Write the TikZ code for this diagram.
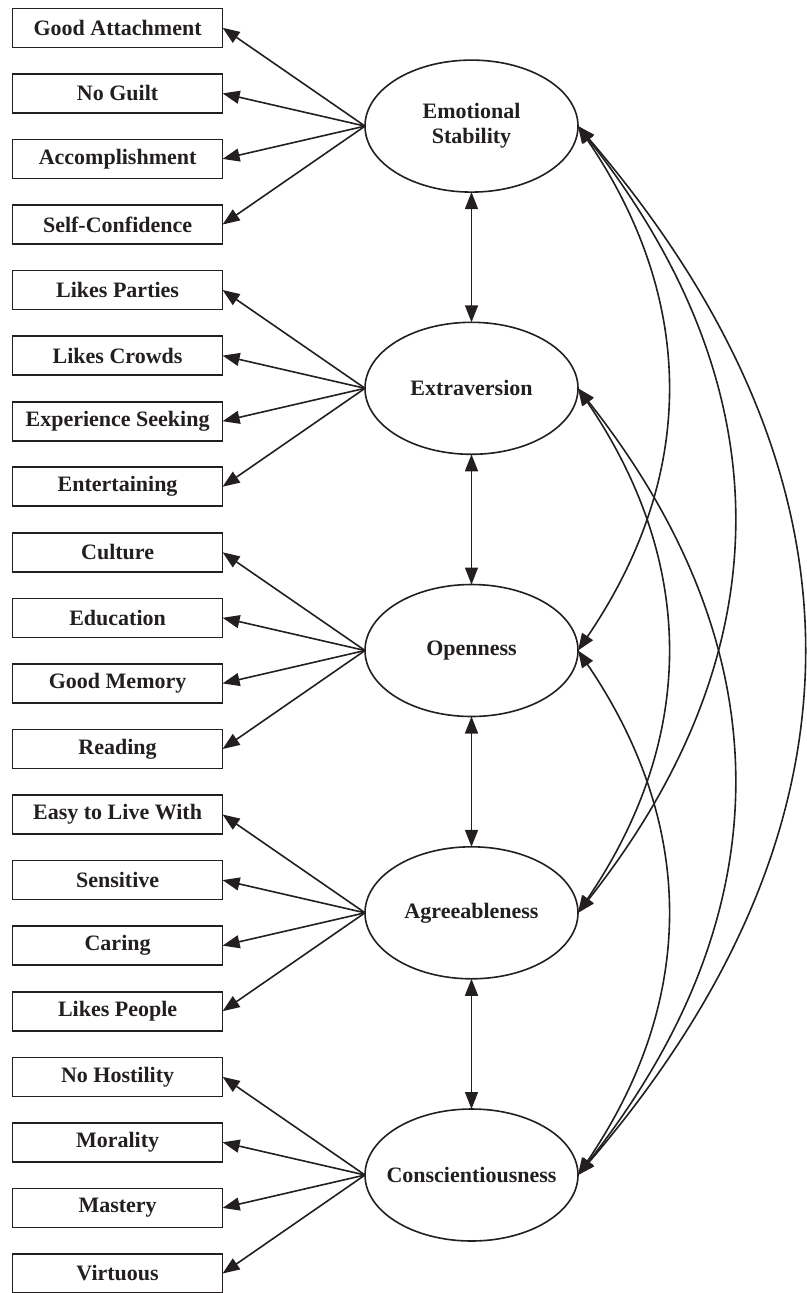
\documentclass[tikz,border=0pt]{standalone}
\usepackage{fontspec}
\setmainfont{Liberation Serif}
\usetikzlibrary{arrows.meta,shapes.geometric}
\definecolor{ink}{RGB}{35,31,32}
\begin{document}
\begin{tikzpicture}[x=1pt,y=-1pt,
  every node/.style={font=\fontsize{22}{25.5}\selectfont\bfseries, text=ink},
  ind/.style={draw=ink, line width=1.6pt, minimum width=210pt, minimum height=39pt, inner sep=0pt, outer sep=0pt},
  lat/.style={draw=ink, ellipse, line width=1.6pt, minimum width=213pt, minimum height=132pt, inner sep=0pt, outer sep=0pt},
  arr/.style={draw=ink, line width=1.6pt, -{Triangle[length=17pt,width=13pt]}},
  darr/.style={draw=ink, line width=1.6pt, {Triangle[length=17pt,width=13pt]}-{Triangle[length=17pt,width=13pt]}},
]
\useasboundingbox (0,0) rectangle (806,1293);

% latent factors
\node[lat] (es) at (471.5,126.1) {\makebox[0pt]{\begin{tabular}{@{}c@{}}Emotional\\Stability\end{tabular}}};
\node[lat] (ex) at (471.5,388.3) {\makebox[0pt]{Extraversion}};
\node[lat] (op) at (471.5,650.5) {\makebox[0pt]{Openness}};
\node[lat] (ag) at (471.5,912.8) {\makebox[0pt]{Agreeableness}};
\node[lat] (co) at (471.5,1175.0) {\makebox[0pt]{Conscientiousness}};

% indicators
\node[ind] (i0)  at (117.6,27.8)   {Good Attachment};
\node[ind] (i1)  at (117.6,93.4)   {No Guilt};
\node[ind] (i2)  at (117.6,158.9)  {Accomplishment};
\node[ind] (i3)  at (117.6,224.5)  {Self-Confidence};
\node[ind] (i4)  at (117.6,290.0)  {Likes Parties};
\node[ind] (i5)  at (117.6,355.6)  {Likes Crowds};
\node[ind] (i6)  at (117.6,421.2)  {Experience Seeking};
\node[ind] (i7)  at (117.6,486.7)  {Entertaining};
\node[ind] (i8)  at (117.6,552.3)  {Culture};
\node[ind] (i9)  at (117.6,617.8)  {Education};
\node[ind] (i10) at (117.6,683.4)  {Good Memory};
\node[ind] (i11) at (117.6,749.0)  {Reading};
\node[ind] (i12) at (117.6,814.5)  {Easy to Live With};
\node[ind] (i13) at (117.6,880.1)  {Sensitive};
\node[ind] (i14) at (117.6,945.6)  {Caring};
\node[ind] (i15) at (117.6,1011.2) {Likes People};
\node[ind] (i16) at (117.6,1076.8) {No Hostility};
\node[ind] (i17) at (117.6,1142.3) {Morality};
\node[ind] (i18) at (117.6,1207.9) {Mastery};
\node[ind] (i19) at (117.6,1273.5) {Virtuous};

% loadings
\foreach \i in {0,1,2,3} \draw[arr] (es.west) -- (i\i.east);
\foreach \i in {4,5,6,7} \draw[arr] (ex.west) -- (i\i.east);
\foreach \i in {8,9,10,11} \draw[arr] (op.west) -- (i\i.east);
\foreach \i in {12,13,14,15} \draw[arr] (ag.west) -- (i\i.east);
\foreach \i in {16,17,18,19} \draw[arr] (co.west) -- (i\i.east);

% adjacent correlations
\draw[darr] (es.south) -- (ex.north);
\draw[darr] (ex.south) -- (op.north);
\draw[darr] (op.south) -- (ag.north);
\draw[darr] (ag.south) -- (co.north);

% curved correlations
\draw[darr] (es.east) .. controls +(119,175) and +(119,-175) .. (op.east);
\draw[darr] (es.east) .. controls +(207,262) and +(207,-262) .. (ag.east);
\draw[darr] (es.east) .. controls +(300,350) and +(300,-350) .. (co.east);
\draw[darr] (ex.east) .. controls +(119,175) and +(119,-175) .. (ag.east);
\draw[darr] (ex.east) .. controls +(207,262) and +(207,-262) .. (co.east);
\draw[darr] (op.east) .. controls +(119,175) and +(119,-175) .. (co.east);
\end{tikzpicture}
\end{document}
